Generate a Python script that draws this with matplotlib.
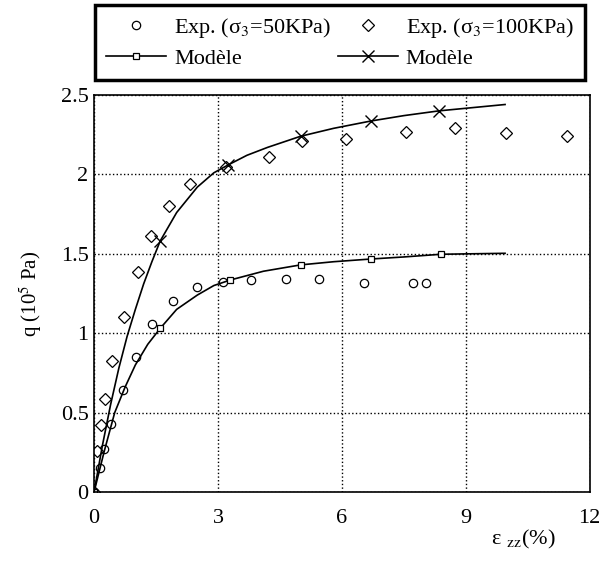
import numpy as np
import matplotlib
matplotlib.use("Agg")
import matplotlib.pyplot as plt

plt.rcParams['font.family'] = ['Liberation Serif', 'DejaVu Serif']
plt.rcParams['mathtext.fontset'] = 'stix'

# experimental points, sigma3 = 50 kPa
exp50_x = [0, 0.15, 0.24, 0.40, 0.69, 1.02, 1.40, 1.90, 2.48, 3.11, 3.81, 4.64, 5.44, 6.53, 7.71, 8.03]
exp50_y = [0, 0.15, 0.27, 0.43, 0.64, 0.85, 1.06, 1.20, 1.29, 1.32, 1.335, 1.343, 1.34, 1.314, 1.314, 1.314]

# experimental points, sigma3 = 100 kPa
exp100_x = [0, 0.08, 0.17, 0.27, 0.44, 0.73, 1.06, 1.38, 1.82, 2.32, 3.19, 4.23, 5.04, 6.10, 7.54, 8.75, 9.97, 11.44]
exp100_y = [0, 0.26, 0.42, 0.585, 0.825, 1.10, 1.387, 1.61, 1.80, 1.94, 2.045, 2.11, 2.21, 2.22, 2.265, 2.29, 2.26, 2.24]

# model curves
mod50_x = [0, 0.25, 0.5, 0.75, 1.0, 1.3, 1.6, 2.0, 2.5, 2.9, 3.3, 4.1, 5.0, 5.8, 6.7, 7.5, 8.4, 9.95]
mod50_y = [0, 0.26, 0.5, 0.66, 0.80, 0.93, 1.03, 1.15, 1.24, 1.30, 1.335, 1.39, 1.43, 1.45, 1.467, 1.48, 1.497, 1.503]
mod50_marks = [0, 6, 10, 12, 14, 16]

mod100_x = [0, 0.2, 0.4, 0.6, 0.8, 1.0, 1.2, 1.4, 1.6, 2.0, 2.5, 2.9, 3.25, 3.7, 4.2, 5.0, 5.8, 6.7, 7.5, 8.35, 9.95]
mod100_y = [0, 0.29, 0.55, 0.78, 0.98, 1.15, 1.31, 1.45, 1.58, 1.76, 1.92, 2.01, 2.06, 2.12, 2.17, 2.24, 2.29, 2.336, 2.37, 2.40, 2.44]
mod100_marks = [8, 12, 15, 17, 19]

xticks = [0, 3, 6, 9, 12]
yticks = [0, 0.5, 1, 1.5, 2, 2.5]

fig = plt.figure(figsize=(6.03, 5.62), dpi=100)
ax = fig.add_axes([0.156, 0.1246, 0.822, 0.7064])

l1, = ax.plot(exp50_x, exp50_y, 'o', mfc='white', mec='black', ms=6, mew=0.9, ls='none')
l3, = ax.plot(exp100_x, exp100_y, 'D', mfc='white', mec='black', ms=6, mew=0.9, ls='none')
l2, = ax.plot(mod50_x, mod50_y, '-', color='black', lw=1.2, marker='s', ms=4.5,
              mfc='white', mec='black', mew=0.9, markevery=mod50_marks)
l4, = ax.plot(mod100_x, mod100_y, '-', color='black', lw=1.2, marker='x', ms=9,
              mec='black', mew=1.0, markevery=mod100_marks)

ax.set_xlim(0, 12)
ax.set_ylim(0, 2.5)
ax.set_xticks(xticks)
ax.set_yticks(yticks)
ax.set_yticklabels(['0', '0.5', '1', '1.5', '2', '2.5'])
ax.tick_params(length=0, labelsize=16)
ax.tick_params(axis='x', pad=12)
ax.tick_params(axis='y', pad=4)
ax.grid(True, ls=':', color='black', lw=1.0)
for s in ax.spines.values():
    s.set_linewidth(1.2)

ax.set_ylabel('q (10$^5$ Pa)', fontsize=15, labelpad=12)
fig.text(0.867, 0.04, 'ε $_{\\mathrm{zz}}$(%)', fontsize=16, ha='center', va='center')

leg = fig.legend([l1, l2, l3, l4],
                 ['Exp. (σ$_3$=50KPa)', 'Modèle', 'Exp. (σ$_3$=100KPa)', 'Modèle'],
                 ncol=2, loc='upper left', bbox_to_anchor=(0.158, 0.991),
                 borderaxespad=0.0,
                 fontsize=16, handlelength=2.7, handletextpad=0.35,
                 columnspacing=0.3, borderpad=0.5, labelspacing=0.35,
                 fancybox=False, edgecolor='black', framealpha=1)
leg.get_frame().set_linewidth(2.5)

fig.savefig('out.png', dpi=100)
